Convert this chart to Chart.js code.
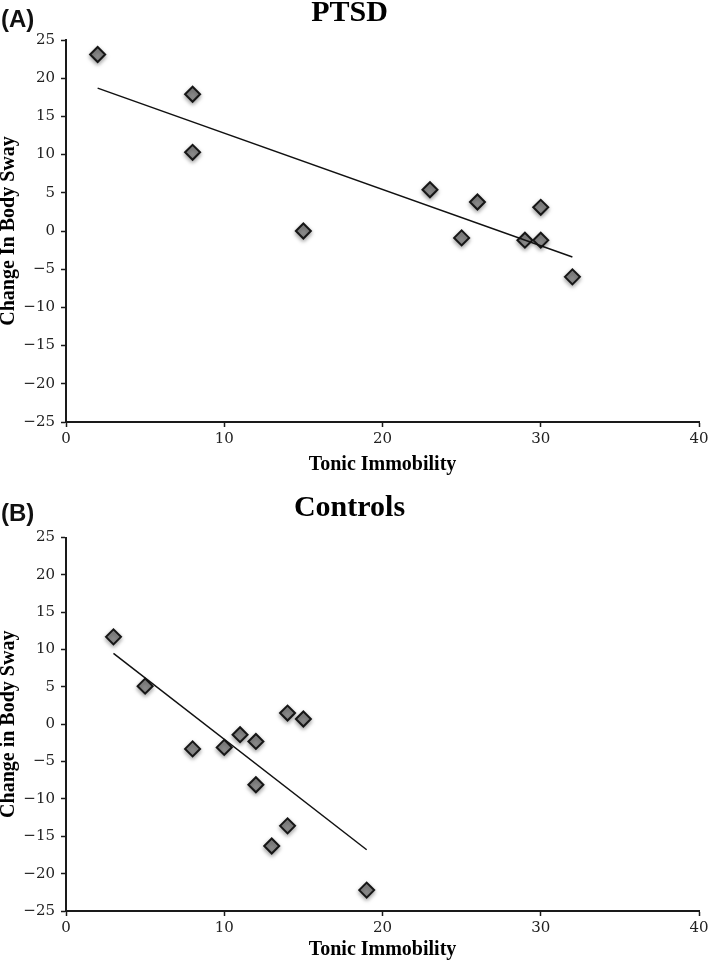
<!DOCTYPE html>
<html>
<head>
<meta charset="utf-8">
<script src="https://cdn.jsdelivr.net/npm/chart.js@4.4.1/dist/chart.umd.min.js"></script>
<style>
  html, body { margin: 0; padding: 0; background: #fff; }
  .page { position: relative; width: 709px; height: 962px; }
  canvas { position: absolute; left: 0; }
  .panel-tag {
    position: absolute; left: 1px;
    font: bold 24px "Liberation Sans", Arial, sans-serif;
    line-height: 24px; color: #111;
  }
</style>
</head>
<body>
<div class="page">
  <canvas id="chart-ptsd" width="709" height="480" style="top:0"></canvas>
  <canvas id="chart-controls" width="709" height="482" style="top:480px"></canvas>
  <div class="panel-tag" style="top:7px">(A)</div>
  <div class="panel-tag" style="top:501px">(B)</div>
</div>
<script>
// PTSD group (panel A)
const ptsdImmobility = [2, 8, 8, 15, 23, 25, 26, 29, 30, 30, 32];
const ptsdSway = [23.1, 17.9, 10.3, 0.0, 5.4, -0.9, 3.8, -1.2, -1.2, 3.1, -6.0];
const ptsdTrendX = [2, 32];
const ptsdTrendY = [18.7, -3.4];

// Control group (panel B)
const controlImmobility = [3, 5, 8, 10, 11, 12, 12, 13, 14, 14, 15, 19];
const controlSway = [11.7, 5.1, -3.3, -3.1, -1.4, -2.3, -8.1, -16.3, 1.5, -13.6, 0.7, -22.2];
const controlTrendX = [3, 19];
const controlTrendY = [9.5, -16.8];

// Axis ranges
const xTicks = [0, 10, 20, 30, 40];
const yTicks = [-25, -20, -15, -10, -5, 0, 5, 10, 15, 20, 25];

const toPoints = (xs, ys) => xs.map((x, i) => ({ x, y: ys[i] }));

const axisColor = '#1a1a1a';
const serif = '"Liberation Serif", "Times New Roman", serif';
const tickFont = { family: '"DejaVu Serif", serif', size: 15 };

// soft drop shadow under the diamonds
const markerShadow = {
    id: 'markerShadow',
    beforeDatasetDraw(chart, args) {
        if (args.index !== 0) return;
        const { ctx } = chart;
        ctx.save();
        ctx.shadowColor = 'rgba(0, 0, 0, 0.35)';
        ctx.shadowBlur = 4;
        ctx.shadowOffsetY = 2;
    },
    afterDatasetDraw(chart, args) {
        if (args.index !== 0) return;
        chart.ctx.restore();
    }
};

const makeChart = (canvasId, opts) => {
    const canvas = document.getElementById(canvasId);
    return new Chart(canvas, {
        type: 'scatter',
        data: {
            datasets: [
                {
                    data: toPoints(opts.xs, opts.ys),
                    pointStyle: 'rectRot',
                    pointRadius: 7.5,
                    pointBackgroundColor: '#8c8c8c',
                    pointBorderColor: '#161616',
                    pointBorderWidth: 2,
                    order: 1
                },
                {
                    type: 'line',
                    data: toPoints(opts.trendX, opts.trendY),
                    borderColor: '#111',
                    borderWidth: 1.5,
                    pointRadius: 0,
                    fill: false,
                    order: 0
                }
            ]
        },
        options: {
            responsive: false,
            animation: false,
            layout: { padding: { left: 0, right: 10, top: 0, bottom: 0 } },
            plugins: {
                legend: { display: false },
                tooltip: { enabled: false },
                title: {
                    display: true,
                    text: opts.title,
                    color: '#000',
                    font: { family: serif, size: 30, weight: 'bold', lineHeight: 0.9 },
                    padding: opts.titlePadding
                }
            },
            scales: {
                x: {
                    type: 'linear',
                    min: xTicks[0],
                    max: xTicks[xTicks.length - 1],
                    afterBuildTicks: (scale) => { scale.ticks = xTicks.map(v => ({ value: v })); },
                    afterFit: (scale) => {
                        scale.height = opts.xAxisHeight;
                        scale.paddingRight = 0;
                    },
                    border: { display: true, color: axisColor, width: 2 },
                    grid: { drawOnChartArea: false, drawTicks: true, tickLength: 5, tickColor: axisColor, tickWidth: 1.5 },
                    ticks: { color: '#222', font: tickFont, padding: 3 },
                    title: {
                        display: true,
                        text: 'Tonic Immobility',
                        color: '#000',
                        font: { family: serif, size: 20, weight: 'bold', lineHeight: 1.2 },
                        padding: { top: 0, bottom: opts.xTitleBottom }
                    }
                },
                y: {
                    min: yTicks[0],
                    max: yTicks[yTicks.length - 1],
                    afterBuildTicks: (scale) => { scale.ticks = yTicks.map(v => ({ value: v })); },
                    afterFit: (scale) => { scale.width = 66; },
                    border: { display: true, color: axisColor, width: 2 },
                    grid: { drawOnChartArea: false, drawTicks: true, tickLength: 5, tickColor: axisColor, tickWidth: 1.5 },
                    ticks: {
                        color: '#222',
                        font: tickFont,
                        padding: 6,
                        callback: (value) => String(value).replace('-', '\u2212')
                    },
                    title: {
                        display: true,
                        text: opts.yTitle,
                        color: '#000',
                        font: { family: serif, size: 20, weight: 'bold', lineHeight: 0.85 },
                        padding: { top: 0, bottom: 0 }
                    }
                }
            }
        },
        plugins: [markerShadow]
    });
};

makeChart('chart-ptsd', {
    xs: ptsdImmobility,
    ys: ptsdSway,
    trendX: ptsdTrendX,
    trendY: ptsdTrendY,
    title: 'PTSD',
    titlePadding: { top: 0, bottom: 13 },
    yTitle: 'Change In Body Sway',
    xAxisHeight: 58,
    xTitleBottom: 3
});

makeChart('chart-controls', {
    xs: controlImmobility,
    ys: controlSway,
    trendX: controlTrendX,
    trendY: controlTrendY,
    title: 'Controls',
    titlePadding: { top: 14.5, bottom: 16 },
    yTitle: 'Change in Body Sway',
    xAxisHeight: 51,
    xTitleBottom: 0
});
</script>
</body>
</html>
